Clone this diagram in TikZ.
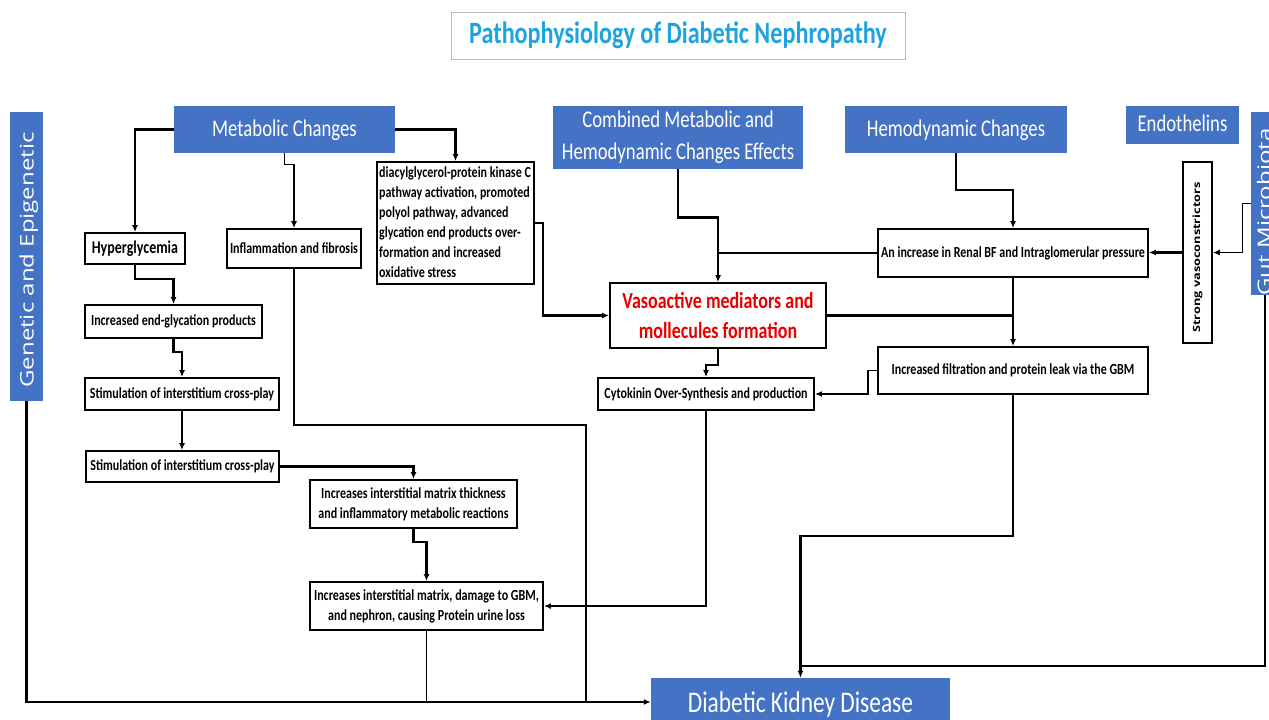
\documentclass[tikz,border=0pt]{standalone}
\usepackage{graphicx}
\usepackage{fontspec}
\setmainfont{Carlito}[FakeStretch=0.78]
\newfontfamily\osans{Open Sans}
\usetikzlibrary{arrows.meta,calc}
\definecolor{dblue}{RGB}{68,114,196}
\definecolor{ttl}{RGB}{28,163,224}
\definecolor{vred}{RGB}{232,0,0}
\definecolor{tgray}{RGB}{190,190,190}
\begin{document}
\begin{tikzpicture}[x=1pt,y=-1pt,
  bluebox/.style={fill=dblue, inner sep=0pt, text=white, align=center, font=\fontsize{24}{32}\selectfont},
  box/.style={draw, line width=1.8pt, fill=white, inner sep=0pt, align=center, font=\bfseries\fontsize{15.4}{20}\selectfont},
  vtext/.style={rotate=90, inner sep=0pt, text=white, font=\osans\fontsize{24}{28}\selectfont},
  thk/.style={line width=2.6pt},
  med/.style={line width=1.9pt},
  thn/.style={line width=1.3pt},
  arr/.style={-{Latex[length=7pt,width=6pt]}},
]
\useasboundingbox (0,0) rectangle (1269,720);
\fill[white] (0,0) rectangle (1269,720);

% title
\node[draw=tgray, line width=1pt, inner sep=0pt, minimum width=454pt, minimum height=47pt,
      text=ttl, font=\bfseries\fontsize{31}{34}\selectfont] (title) at (678,35.5) {Pathophysiology of Diabetic Nephropathy};

% blue boxes
\node[bluebox, minimum width=33pt, minimum height=289pt] (gen) at (26.5,256.5) {};
\node[vtext, anchor=base] (genT) at (33.5,260) {\scalebox{1}[0.78]{Genetic and Epigenetic}};
\node[bluebox, minimum width=221pt, minimum height=47pt, text depth=3pt] (metab) at (284.5,129.5) {Metabolic Changes};
\node[bluebox, minimum width=250pt, minimum height=63pt] (comb) at (678,137.5) {Combined Metabolic and\\Hemodynamic Changes Effects};
\node[bluebox, minimum width=222pt, minimum height=47pt, text depth=3pt] (hemo) at (956,129.5) {Hemodynamic Changes};
\node[bluebox, minimum width=113pt, minimum height=38pt, text depth=3pt] (endo) at (1182.5,125) {Endothelins};
\node[bluebox, minimum width=39pt, minimum height=183pt] (gut) at (1270.5,203.5) {};
\node[vtext, anchor=base] (gutT) at (1271,212) {\scalebox{1}[0.78]{Gut Microbiota}};
\node[bluebox, minimum width=299pt, minimum height=48pt] (dkd) at (800.5,702) {};
\node[inner sep=0pt, text=white, anchor=base, font=\fontsize{30}{34}\selectfont] (dkdT) at (800.5,712) {Diabetic Kidney Disease};

% white boxes
\node[box, minimum width=100pt, minimum height=31pt, font=\bfseries\fontsize{18}{20}\selectfont] (hyper) at (135,248.5) {Hyperglycemia};
\node[box, minimum width=134pt, minimum height=39pt] (infl) at (294,248.5) {Inflammation and fibrosis};
\node[box, minimum width=157pt, minimum height=122pt] (diac) at (455.5,223) {};
\node[inner sep=0pt, anchor=north west, align=left, font=\bfseries\fontsize{15.4}{20}\selectfont] (diacT) at (379,166) {diacylglycerol-protein kinase C\\pathway activation, promoted\\polyol pathway, advanced\\glycation end products over-\\formation and increased\\oxidative stress};
\node[box, minimum width=177pt, minimum height=33pt] (endgly) at (173.5,321.5) {Increased end-glycation products};
\node[box, minimum width=194pt, minimum height=32pt] (stim1) at (182,394) {Stimulation of interstitium cross-play};
\node[box, minimum width=193pt, minimum height=31pt] (stim2) at (182.5,466.5) {Stimulation of interstitium cross-play};
\node[box, minimum width=207pt, minimum height=48pt] (thick) at (413.5,504) {Increases interstitial matrix thickness\\and inflammatory metabolic reactions};
\node[box, minimum width=233pt, minimum height=48pt] (damage) at (426.5,606) {Increases interstitial matrix, damage to GBM,\\and nephron, causing Protein urine loss};
\node[box, minimum width=216pt, minimum height=65pt, text=vred, font=\bfseries\fontsize{23}{30}\selectfont] (vaso) at (718,315.5) {Vasoactive mediators and\\mollecules formation};
\node[box, minimum width=216pt, minimum height=32pt] (cyto) at (706,394) {Cytokinin Over-Synthesis and production};
\node[box, minimum width=270pt, minimum height=48pt] (renal) at (1013,253) {An increase in Renal BF and Intraglomerular pressure};
\node[box, minimum width=270pt, minimum height=47pt] (filt) at (1013,370.5) {Increased filtration and protein leak via the GBM};
\node[box, minimum width=29pt, minimum height=181pt] (strong) at (1197.5,252.5) {};
\node[rotate=90, inner sep=0pt, font=\osans\bfseries\fontsize{12.75}{14}\selectfont] (strongT) at (1197.5,257.5) {\scalebox{1}[0.78]{Strong vasoconstrictors}};

% coordinates
\coordinate (infJ) at (586,425);
\coordinate (infB) at (586,702);
\coordinate (gutB) at (1265,295);
\coordinate (gutJ) at (800.5,666);

% connectors
\draw[thk,arr] (metab.west) -| (hyper.north);
\draw[thn,arr] (metab.south) -- ++(0,11) -| (infl.north);
\draw[thk,arr] (metab.east) -| (diac.north);
\draw[thk,arr] (hyper.south) -- ++(0,14) -| (endgly.north);
\draw[thk,arr] (endgly.south) -- ++(0,13) -| (stim1.north);
\draw[med,arr] (stim1.south) -- (stim1.south |- stim2.north);
\draw[thk,arr] (stim2.east) -| (thick.north);
\draw[thk,arr] (thick.south) -- ++(0,13) -| (damage.north);
\draw[thn] (infl.south) |- (infJ) -- (infB);
\draw[thn] (damage.south) -- (damage.south |- dkd.west);
\draw[thk,arr] (gen.south) |- (dkd.west);
\draw[med,arr] (cyto.south) |- (damage.east);
\draw[thk,arr] (diac.east) -- ++(8,0) |- (vaso.west);
\draw[thk,arr] (comb.south) -- ++(0,48) -| (vaso.north);
\draw[thk] (renal.west) -- (vaso.north |- renal.west);
\draw[med,arr] (hemo.south) -- ++(0,37) -| (renal.north);
\draw[thk,arr] (renal.south) -- (filt.north);
\draw[thk] (vaso.east) -- (renal.south |- vaso.east);
\draw[thk,arr] (vaso.south) -- ++(0,16) -| (cyto.north);
\draw[med,arr] (filt.west) -- ++(-9,0) |- (cyto.east);
\draw[thk,arr] (filt.south) -- ++(0,141) -| (dkd.north);
\draw[thk] (gutB) |- (gutJ);
\draw[thn,arr] (gut.west) -- ++(-8,0) |- (strong.east);
\draw[thk,arr] (strong.west) -- (strong.west -| renal.east);
\end{tikzpicture}
\end{document}
